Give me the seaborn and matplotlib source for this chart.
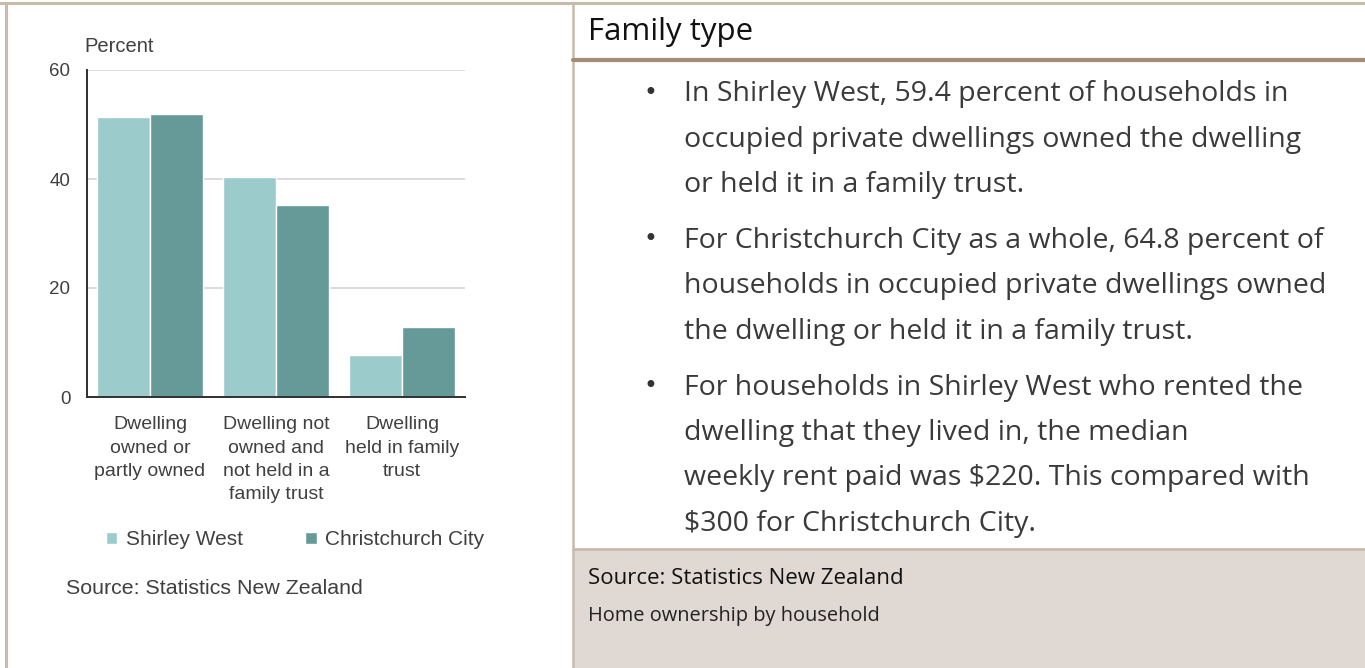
import matplotlib
matplotlib.use("Agg")
import matplotlib.pyplot as plt
import seaborn as sns
import pandas as pd
from matplotlib.lines import Line2D
from matplotlib.patches import Rectangle

# chart data
categories = ["Dwelling\nowned or\npartly owned",
              "Dwelling not\nowned and\nnot held in a\nfamily trust",
              "Dwelling\nheld in family\ntrust"]
areas = ["Shirley West", "Christchurch City"]
shirley_west = [51.3, 40.3, 7.7]
christchurch_city = [52.0, 35.2, 12.9]
y_ticks = [0, 20, 40, 60]

# side panel text
heading = "Family type"
bullets = [
    ["In Shirley West, 59.4 percent of households in",
     "occupied private dwellings owned the dwelling",
     "or held it in a family trust."],
    ["For Christchurch City as a whole, 64.8 percent of",
     "households in occupied private dwellings owned",
     "the dwelling or held it in a family trust."],
    ["For households in Shirley West who rented the",
     "dwelling that they lived in, the median",
     "weekly rent paid was $220. This compared with",
     "$300 for Christchurch City."],
]
source_note = "Source: Statistics New Zealand"
caption = "Home ownership by household"

W, H = 1365, 668
light_teal = "#9BCCCB"
dark_teal = "#659A98"
border = "#C9BBAB"
text_grey = "#404040"

df = pd.DataFrame({
    "category": categories * 2,
    "area": [areas[0]] * len(categories) + [areas[1]] * len(categories),
    "percent": shirley_west + christchurch_city,
})

sns.set_theme(style="white")
plt.rcParams["font.family"] = ["Liberation Sans", "DejaVu Sans"]


def fx(px):
    return px / W


def fy(py):
    return 1 - py / H


fig = plt.figure(figsize=(W / 100, H / 100), dpi=100)
fig.patch.set_facecolor("white")

ax = fig.add_axes([fx(87), fy(397), (465 - 87) / W, (397 - 70) / H])
sns.barplot(data=df, x="category", y="percent", hue="area",
            palette=[light_teal, dark_teal], saturation=1, width=0.84,
            errorbar=None, ax=ax)

ax.set_xlim(-0.5, 2.5)
ax.set_ylim(0, 60)
ax.set_yticks(y_ticks)
ax.set_xlabel("")
ax.set_ylabel("")
ax.yaxis.grid(True, color="#D9D9D9", lw=1.3)
ax.set_axisbelow(True)
for s in ["top", "right"]:
    ax.spines[s].set_visible(False)
for s in ["left", "bottom"]:
    ax.spines[s].set_color("#303030")
    ax.spines[s].set_linewidth(1.4)
ax.tick_params(axis="y", length=0, pad=12, labelsize=13.5, labelcolor=text_grey)
ax.tick_params(axis="x", length=0, pad=14, labelsize=14, labelcolor=text_grey)
for lbl in ax.get_xticklabels():
    lbl.set_linespacing(1.48)

handles, labels = ax.get_legend_handles_labels()
ax.legend(handles, labels, loc="center", bbox_to_anchor=(0.55, -0.437),
          ncol=2, frameon=False, fontsize=15, handlelength=0.55,
          handleheight=0.55, handletextpad=0.4, columnspacing=3.0,
          labelcolor=text_grey)

fig.text(fx(84), fy(46), "Percent", fontsize=14.5, color=text_grey,
         ha="left", va="center")
fig.text(fx(66), fy(588), source_note, fontsize=15.4, color=text_grey,
         ha="left", va="center")

# frame lines and the grey source box
fig.add_artist(Rectangle((fx(573), 0), (W - 573) / W, (668 - 549) / H,
                         transform=fig.transFigure, facecolor="#E0D9D3",
                         edgecolor="none"))
fig.add_artist(Line2D([fx(573), 1], [fy(549), fy(549)],
                      transform=fig.transFigure, color=border, lw=2))
fig.add_artist(Line2D([0, 1], [fy(2.5), fy(2.5)],
                      transform=fig.transFigure, color=border, lw=2.2))
fig.add_artist(Line2D([fx(5.5), fx(5.5)], [0, fy(2.5)],
                      transform=fig.transFigure, color=border, lw=2.2))
fig.add_artist(Line2D([fx(573), fx(573)], [0, fy(2.5)],
                      transform=fig.transFigure, color=border, lw=1.8))
fig.add_artist(Line2D([fx(573), 1], [fy(60), fy(60)],
                      transform=fig.transFigure, color="#A38D78", lw=3))

side_font = ["Open Sans", "DejaVu Sans"]
fig.text(fx(588), fy(32), heading, fontsize=22.5, color="#111111",
         ha="left", va="center", family=side_font)

line_no = 0
for p, para in enumerate(bullets):
    y0 = 94.5 + 45.5 * line_no + 10 * p
    fig.text(fx(650), fy(y0 - 1.5), "\u2022", fontsize=17, color="#333333",
             ha="center", va="center", family=["DejaVu Sans"])
    for i, line in enumerate(para):
        fig.text(fx(684), fy(y0 + 45.5 * i), line, fontsize=20.5,
                 color="#3A3A3A", ha="left", va="center", family=side_font)
    line_no += len(para)

fig.text(fx(588), fy(579), source_note, fontsize=16, color="#111111",
         ha="left", va="center", family=side_font)
fig.text(fx(588), fy(616), caption, fontsize=14.4, color="#222222",
         ha="left", va="center", family=side_font)

fig.savefig("out.png", dpi=100)
